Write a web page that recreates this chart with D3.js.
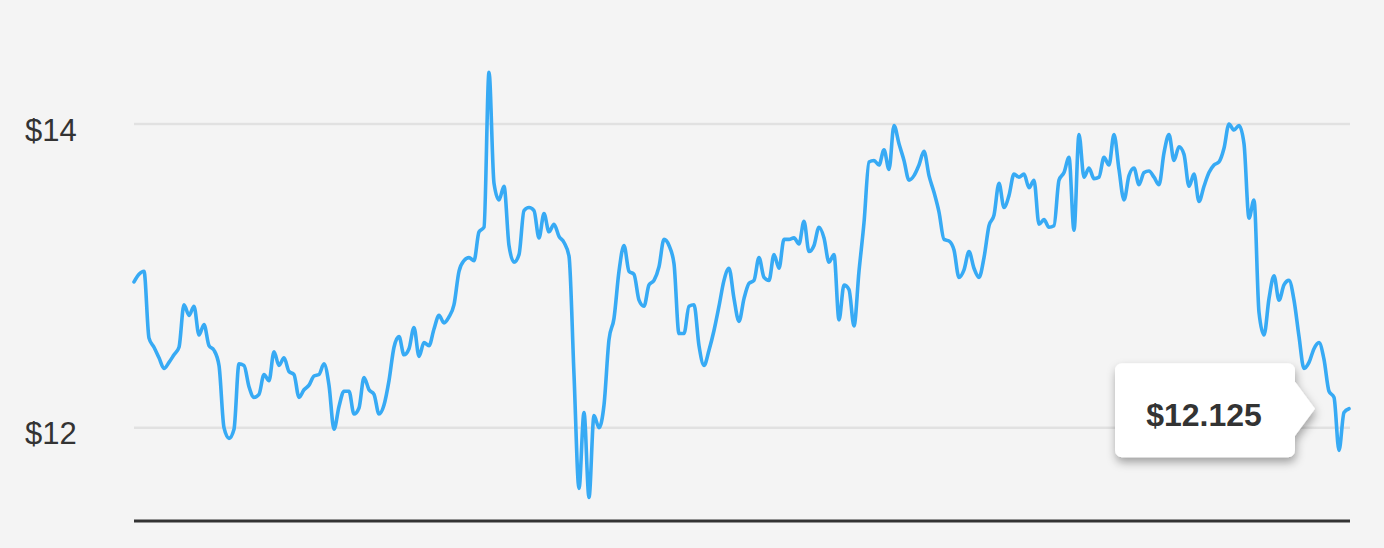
<!DOCTYPE html>
<html>
<head>
<meta charset="utf-8">
<script src="https://cdn.jsdelivr.net/npm/d3@7"></script>
<style>
  html, body { margin: 0; padding: 0; background: #f4f4f4; }
  svg { display: block; }
</style>
</head>
<body>
<svg id="chart" width="1384" height="548"></svg>
<script>
// ---- data ----
const prices = [
  12.96, 13.01, 13.03, 12.59, 12.53, 12.46, 12.39, 12.43, 12.48, 12.53,
  12.81, 12.74, 12.80, 12.61, 12.68, 12.54, 12.51, 12.41, 12.00, 11.93,
  11.99, 12.42, 12.41, 12.27, 12.20, 12.22, 12.35, 12.31, 12.50, 12.41,
  12.46, 12.37, 12.35, 12.20, 12.25, 12.28, 12.34, 12.35, 12.42, 12.28,
  11.99, 12.14, 12.24, 12.24, 12.09, 12.13, 12.33, 12.25, 12.22, 12.09,
  12.15, 12.31, 12.53, 12.60, 12.48, 12.52, 12.66, 12.47, 12.56, 12.54,
  12.65, 12.74, 12.69, 12.73, 12.81, 13.03, 13.10, 13.12, 13.10, 13.29,
  13.32, 14.34, 13.61, 13.50, 13.59, 13.20, 13.09, 13.14, 13.43, 13.45,
  13.43, 13.25, 13.41, 13.29, 13.34, 13.26, 13.22, 13.13, 12.35, 11.60,
  12.10, 11.54, 12.08, 12.00, 12.15, 12.58, 12.72, 13.03, 13.20, 13.03,
  13.01, 12.84, 12.80, 12.94, 12.97, 13.06, 13.24, 13.20, 13.08, 12.62,
  12.62, 12.80, 12.81, 12.54, 12.41, 12.51, 12.64, 12.80, 12.97, 13.05,
  12.85, 12.70, 12.85, 12.95, 12.97, 13.12, 12.99, 12.97, 13.14, 13.05,
  13.24, 13.24, 13.25, 13.21, 13.36, 13.16, 13.20, 13.32, 13.25, 13.09,
  13.14, 12.71, 12.94, 12.91, 12.67, 13.03, 13.35, 13.75, 13.76, 13.73,
  13.83, 13.70, 13.99, 13.87, 13.76, 13.63, 13.66, 13.73, 13.82, 13.66,
  13.55, 13.42, 13.24, 13.23, 13.17, 12.99, 13.04, 13.16, 13.05, 12.99,
  13.12, 13.33, 13.40, 13.61, 13.45, 13.53, 13.67, 13.65, 13.67, 13.58,
  13.63, 13.34, 13.37, 13.32, 13.33, 13.63, 13.68, 13.78, 13.30, 13.93,
  13.65, 13.71, 13.64, 13.65, 13.78, 13.73, 13.93, 13.70, 13.50, 13.66,
  13.71, 13.60, 13.68, 13.69, 13.65, 13.60, 13.81, 13.93, 13.76, 13.85,
  13.80, 13.59, 13.67, 13.49, 13.59, 13.68, 13.73, 13.75, 13.84, 14.00,
  13.96, 13.99, 13.87, 13.38, 13.50, 12.76, 12.61, 12.85, 13.00, 12.84,
  12.94, 12.97, 12.84, 12.60, 12.39, 12.43, 12.52, 12.56, 12.45, 12.24,
  12.20, 11.85, 12.10, 12.125
];
const tickValues = [12, 14];
const tickLabels = ["$12", "$14"];
const tooltipLabel = "$12.125";

// ---- layout ----
const svg = d3.select("#chart");
const left = 134, right = 1349;
const axisY = 521;

const x = d3.scaleLinear().domain([0, prices.length - 1]).range([left, right]);
const y = d3.scaleLinear().domain([12, 14]).range([427.7, 124]);

// gridlines
svg.append("g")
  .selectAll("line")
  .data(tickValues)
  .join("line")
  .attr("x1", left).attr("x2", 1350)
  .attr("y1", d => y(d)).attr("y2", d => y(d))
  .attr("stroke", "#e1e1e1")
  .attr("stroke-width", 2.5);

// y-axis labels via d3 axis
const yAxis = d3.axisLeft(y)
  .tickValues(tickValues)
  .tickFormat((d, i) => tickLabels[i])
  .tickSize(0)
  .tickPadding(0);
const ga = svg.append("g").attr("transform", "translate(25,0)").call(yAxis);
ga.select(".domain").remove();
ga.selectAll("text")
  .attr("text-anchor", "start")
  .attr("dy", "0.36em")
  .attr("y", 5)
  .style("font-family", "'Liberation Sans', Arial, Helvetica, sans-serif")
  .style("font-size", "31px")
  .style("fill", "#333");

// bottom axis line
svg.append("line")
  .attr("x1", left).attr("x2", 1350)
  .attr("y1", axisY).attr("y2", axisY)
  .attr("stroke", "#333")
  .attr("stroke-width", 3);

// price line
const line = d3.line()
  .x((d, i) => x(i))
  .y(d => y(d))
  .curve(d3.curveMonotoneX);

svg.append("path")
  .datum(prices)
  .attr("fill", "none")
  .attr("stroke", "#37aaf4")
  .attr("stroke-width", 3.6)
  .attr("stroke-linejoin", "round")
  .attr("stroke-linecap", "round")
  .attr("d", line);

// tooltip
const defs = svg.append("defs");
const f = defs.append("filter").attr("id", "shadow")
  .attr("x", "-20%").attr("y", "-20%").attr("width", "140%").attr("height", "160%");
f.append("feDropShadow")
  .attr("dx", 1).attr("dy", 5).attr("stdDeviation", 5)
  .attr("flood-color", "#000").attr("flood-opacity", 0.35);

const lastI = prices.length - 1;
const tipX = x(lastI) - 34;
const tipY = y(prices[lastI]);
const bw = 180, bh = 94, r = 7, pw = 20, ph = 54;
const bx = tipX - pw - bw, by = tipY - bh / 2 + 1.5;
const cy = tipY;
const p = d3.path();
p.moveTo(bx + r, by);
p.lineTo(bx + bw - r, by);
p.arcTo(bx + bw, by, bx + bw, by + r, r);
p.lineTo(bx + bw, cy - ph / 2);
p.lineTo(tipX, cy);
p.lineTo(bx + bw, cy + ph / 2);
p.lineTo(bx + bw, by + bh - r);
p.arcTo(bx + bw, by + bh, bx + bw - r, by + bh, r);
p.lineTo(bx + r, by + bh);
p.arcTo(bx, by + bh, bx, by + bh - r, r);
p.lineTo(bx, by + r);
p.arcTo(bx, by, bx + r, by, r);
p.closePath();

svg.append("path")
  .attr("d", p.toString())
  .attr("fill", "#fff")
  .attr("filter", "url(#shadow)");

svg.append("text")
  .attr("x", bx + bw / 2 - 1)
  .attr("y", by + 63)
  .attr("text-anchor", "middle")
  .style("font-family", "'Liberation Sans', Arial, Helvetica, sans-serif")
  .style("font-weight", "bold")
  .style("font-size", "32px")
  .style("fill", "#333")
  .text(tooltipLabel);
</script>
</body>
</html>
